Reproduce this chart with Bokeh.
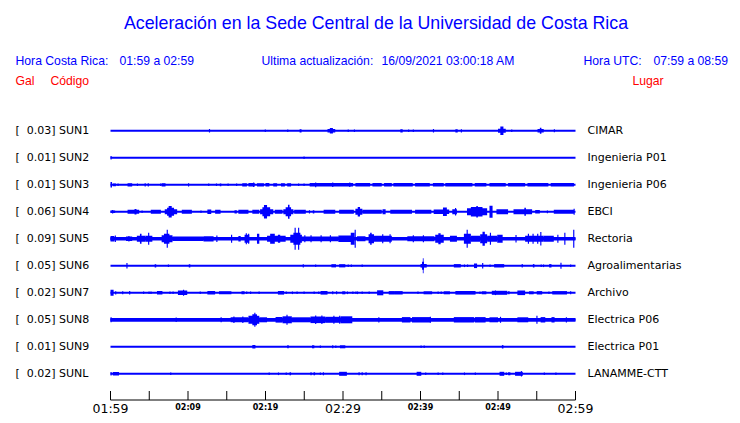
from bokeh.plotting import figure
from bokeh.models import Range1d
from bokeh.core.properties import value
from bokeh.embed import file_html
from bokeh.resources import INLINE

# ---------------- data ----------------
TITLE = "Aceleración en la Sede Central de la Universidad de Costa Rica"
HORA_CR = "01:59 a 02:59"
UPDATE = "16/09/2021 03:00:18 AM"
HORA_UTC = "07:59 a 08:59"

CODES = ["SUN1", "SUN2", "SUN3", "SUN4", "SUN5", "SUN6", "SUN7", "SUN8", "SUN9", "SUNL"]
PEAK_GAL = [0.03, 0.01, 0.01, 0.06, 0.09, 0.05, 0.02, 0.05, 0.01, 0.02]
PLACES = ["CIMAR", "Ingenieria P01", "Ingenieria P06", "EBCI", "Rectoria",
          "Agroalimentarias", "Archivo", "Electrica P06", "Electrica P01", "LANAMME-CTT"]

DURATION_MIN = 60
TICK_MINUTES = [0, 5, 10, 15, 20, 25, 30, 35, 40, 45, 50, 55, 60]
MINOR_LABEL_MIN = [10, 20, 40, 50]
MINOR_LABELS = ["02:09", "02:19", "02:39", "02:49"]
MAJOR_LABEL_MIN = [0, 30, 60]
MAJOR_LABELS = ["01:59", "02:29", "02:59"]

# Envelope of each trace: (start minute, end minute, half-amplitude in counts)
BASE_AMP = 1.0

SUN1_EV = [
    (12.7, 12.85, 1.8), (19.9, 20.05, 1.3), (22.8, 22.95, 1.3), (24.4, 24.65, 1.6),
    (28.0, 29.0, 1.8), (28.3, 28.7, 2.7),
    (30.6, 30.75, 1.3), (31.4, 31.55, 1.3),
    (37.4, 37.7, 1.6), (38.4, 38.55, 1.2), (39.0, 39.15, 1.2),
    (41.6, 41.75, 1.8), (44.5, 44.8, 1.6), (45.2, 45.35, 1.6),
    (50.0, 51.0, 2.0), (50.3, 50.7, 4.3), (51.7, 51.85, 1.2),
    (55.1, 55.9, 1.8), (55.4, 55.6, 3.0), (57.2, 57.35, 1.5),
]
SUN2_EV = [(0.0, 0.15, 1.8), (24.9, 25.05, 1.3)]
SUN3_EV = [
    (0.0, 0.2, 2.7), (0.3, 0.7, 1.4), (0.9, 1.05, 1.3),
    (2.2, 2.8, 1.6), (3.4, 3.55, 1.2), (4.4, 4.55, 1.6), (4.8, 4.95, 1.6),
    (6.4, 6.55, 1.2), (6.6, 7.1, 1.6), (10.0, 10.15, 1.6), (12.6, 12.75, 1.2),
    (13.6, 13.75, 1.2), (14.1, 14.3, 1.4), (15.1, 15.25, 1.3), (16.2, 16.35, 1.3),
    (17.0, 17.6, 1.6), (17.8, 18.6, 1.7), (18.4, 18.55, 2.3), (18.9, 19.8, 1.6),
    (20.0, 20.5, 1.7), (21.0, 21.5, 1.6), (22.0, 22.5, 1.6), (22.8, 23.3, 1.6),
    (24.2, 24.35, 1.2), (24.9, 25.05, 1.2),
    (25.7, 30.0, 1.8), (26.4, 26.55, 2.4), (28.6, 28.75, 2.2),
    (30.0, 31.3, 1.8), (30.8, 30.95, 2.3), (31.6, 33.5, 1.8), (33.8, 35.0, 1.8),
    (35.3, 36.3, 1.8), (36.5, 39.0, 1.8), (39.3, 41.2, 1.8), (41.6, 43.0, 1.8),
    (43.2, 46.7, 1.8), (47.0, 48.5, 1.8), (48.9, 51.0, 1.8), (51.3, 53.5, 1.8),
    (53.8, 56.5, 1.8), (56.8, 59.8, 1.8),
]
SUN4_EV = [
    (0.0, 0.6, 1.3), (0.2, 0.35, 1.8), (2.2, 3.7, 2.0), (3.1, 3.35, 2.7), (4.0, 4.15, 1.3),
    (5.2, 6.5, 2.0), (7.0, 8.6, 2.5), (7.3, 8.2, 4.0), (7.5, 7.9, 5.7),
    (9.2, 10.5, 2.0), (11.6, 11.75, 1.3), (12.5, 13.0, 2.3), (13.5, 14.2, 2.0),
    (16.0, 16.3, 1.6), (16.5, 17.8, 2.0), (18.3, 19.2, 2.0),
    (19.3, 21.0, 2.5), (19.6, 20.6, 4.5), (19.8, 20.2, 6.7), (21.2, 22.2, 2.0),
    (22.3, 23.6, 2.5), (22.6, 23.3, 4.5), (22.9, 23.1, 7.0),
    (23.7, 25.2, 2.0), (25.6, 25.75, 1.6), (26.1, 26.3, 1.6),
    (27.5, 29.0, 2.0), (29.5, 31.4, 2.0), (31.6, 32.5, 3.0), (31.9, 32.2, 4.7),
    (32.5, 35.0, 2.0), (35.1, 35.5, 2.5), (36.1, 38.9, 2.0), (39.3, 41.4, 2.0),
    (41.7, 43.7, 2.3), (42.9, 43.4, 4.3), (44.1, 44.7, 2.5), (44.45, 44.6, 3.7),
    (46.0, 48.6, 3.5), (46.5, 48.0, 4.7), (47.2, 47.4, 5.8), (48.9, 49.3, 6.0),
    (49.8, 51.3, 2.5), (52.0, 54.4, 2.5), (53.4, 53.6, 4.0),
    (54.8, 55.4, 1.8), (56.3, 56.45, 1.4), (57.2, 59.8, 2.0), (59.75, 59.9, 3.0),
]
SUN5_EV = [
    (0.0, 60.0, 1.7), (0.0, 0.5, 2.8), (0.55, 0.7, 3.2),
    (2.0, 2.8, 2.3), (2.3, 2.45, 2.8), (3.4, 4.5, 3.0), (3.8, 4.0, 5.0),
    (4.5, 5.4, 3.0), (4.85, 5.0, 6.0), (6.6, 8.0, 3.5), (6.9, 7.6, 5.0), (7.25, 7.4, 9.0),
    (8.0, 12.0, 2.2), (12.0, 13.3, 2.6), (13.65, 13.8, 3.3),
    (15.55, 15.7, 4.0), (16.5, 16.8, 2.8), (17.3, 17.9, 4.0), (17.45, 17.6, 5.5),
    (17.75, 17.9, 5.0), (18.9, 19.2, 5.0),
    (20.2, 22.6, 3.0), (20.6, 21.2, 5.0), (21.6, 21.9, 4.0),
    (23.2, 24.7, 4.0), (23.6, 24.5, 6.0), (23.75, 23.9, 11.0), (24.2, 24.35, 11.0),
    (24.7, 29.4, 2.4), (25.0, 25.15, 3.5), (25.8, 25.95, 3.5), (27.1, 27.25, 3.5),
    (28.3, 28.45, 3.5), (29.4, 31.4, 3.3), (31.0, 31.5, 6.0), (31.5, 31.65, 9.0),
    (31.8, 32.9, 2.5), (33.3, 34.0, 4.5), (33.5, 33.7, 6.0),
    (34.0, 36.3, 3.0), (35.05, 35.2, 4.5), (36.0, 36.15, 4.5),
    (38.3, 41.8, 2.5), (39.0, 39.15, 3.5), (40.3, 40.45, 3.5),
    (41.9, 43.0, 4.0), (42.3, 42.6, 5.5), (43.8, 44.7, 3.0),
    (45.6, 46.5, 5.0), (45.95, 46.1, 9.0), (46.5, 47.7, 3.0),
    (47.7, 48.6, 4.5), (48.0, 48.3, 7.0), (48.6, 49.9, 3.0), (48.95, 49.1, 6.0),
    (49.9, 50.6, 4.0), (52.25, 52.4, 3.7),
    (53.5, 55.9, 3.0), (53.85, 54.0, 5.0), (54.45, 54.6, 5.0), (55.05, 55.2, 5.0),
    (55.45, 55.6, 6.7), (55.9, 57.2, 3.0),
    (57.65, 57.8, 4.0), (58.55, 58.7, 6.0), (59.7, 59.85, 9.0),
]
SUN6_EV = [
    (2.05, 2.2, 2.7), (5.7, 5.9, 1.6), (7.4, 7.55, 1.3), (10.1, 10.3, 1.6),
    (24.8, 24.95, 1.6), (26.4, 26.55, 1.3), (28.5, 29.1, 1.6), (29.5, 30.3, 1.6),
    (30.6, 30.75, 1.3), (31.0, 31.15, 1.3), (32.4, 32.55, 1.3),
    (40.0, 40.8, 1.8), (40.2, 40.45, 4.0), (40.3, 40.4, 7.5),
    (44.3, 45.2, 1.7), (45.6, 45.75, 1.3), (46.0, 46.15, 1.3),
    (46.9, 47.3, 2.3), (47.95, 48.1, 2.7), (48.9, 49.05, 1.3),
    (49.5, 50.8, 1.7), (53.05, 53.2, 1.7), (54.5, 54.7, 1.7), (55.5, 55.65, 1.3),
    (55.8, 55.95, 1.3), (56.6, 56.9, 1.7), (58.05, 58.2, 3.0), (59.3, 59.45, 1.3),
]
SUN7_EV = [
    (0.0, 0.4, 3.0), (0.6, 0.75, 1.6), (1.5, 1.65, 1.5), (2.4, 2.55, 1.7),
    (4.2, 4.35, 1.3), (4.9, 5.05, 1.3), (5.15, 5.3, 1.3), (6.0, 6.7, 1.7),
    (7.6, 7.75, 1.3), (8.0, 8.15, 1.3), (8.7, 9.9, 2.3), (9.35, 9.5, 3.0),
    (11.5, 11.65, 1.3), (12.5, 13.5, 1.7), (14.0, 15.6, 1.5),
    (16.9, 17.3, 1.5), (17.5, 17.65, 1.3), (18.0, 18.15, 1.3), (19.1, 19.25, 1.3),
    (21.6, 22.4, 1.8), (22.6, 22.75, 1.3), (23.4, 23.55, 1.3), (24.0, 24.15, 1.3),
    (24.9, 25.05, 1.3), (26.2, 26.35, 1.3), (26.8, 26.95, 1.3),
    (27.1, 28.0, 1.8), (28.6, 28.75, 1.5), (29.1, 29.25, 1.5), (29.9, 30.3, 1.5),
    (30.5, 30.65, 1.3), (31.2, 31.35, 1.3), (31.6, 31.75, 1.3), (31.8, 31.95, 1.3),
    (32.4, 32.55, 1.3), (33.3, 33.45, 1.3),
    (34.4, 35.2, 2.5), (35.9, 36.7, 1.7), (36.7, 37.7, 1.7),
    (39.6, 39.75, 1.3), (40.4, 41.5, 1.5), (42.2, 42.35, 1.3), (42.6, 42.75, 1.3),
    (43.0, 43.8, 1.5), (44.5, 47.1, 1.8), (47.6, 47.75, 1.3), (47.9, 48.5, 1.5),
    (49.2, 51.2, 2.0), (49.6, 49.75, 2.3), (51.3, 51.5, 1.5),
    (52.5, 53.5, 2.3), (54.0, 54.6, 1.5), (55.0, 55.7, 1.7), (56.5, 56.65, 1.3),
    (57.0, 58.9, 1.7), (59.3, 59.45, 1.5),
]
SUN8_EV = [
    (0.0, 60.0, 1.9), (0.0, 0.15, 2.5), (8.4, 8.55, 2.3), (14.2, 14.35, 2.5),
    (15.5, 17.8, 2.5), (15.85, 16.0, 3.3), (17.0, 17.15, 3.3),
    (17.8, 19.2, 4.0), (18.3, 18.9, 5.5), (18.55, 18.7, 7.0),
    (19.2, 20.2, 2.5), (21.3, 22.2, 2.8), (22.2, 23.4, 3.5), (22.7, 22.85, 5.0),
    (23.4, 25.8, 2.5), (25.8, 27.7, 3.3), (26.4, 26.55, 4.3), (27.2, 27.35, 4.3),
    (27.7, 29.7, 3.0), (28.75, 28.9, 4.0), (29.5, 29.65, 4.0), (29.7, 31.2, 3.5),
    (34.55, 34.7, 2.6), (37.6, 38.7, 2.7), (38.9, 41.3, 2.7), (41.2, 41.35, 3.0),
    (44.3, 46.9, 2.7), (47.0, 48.4, 2.7), (48.9, 50.0, 2.5), (50.25, 50.4, 3.0),
    (52.5, 53.9, 2.5), (54.95, 55.1, 4.0), (55.5, 56.1, 2.7), (56.9, 57.3, 2.7),
    (58.75, 58.9, 2.6),
]
SUN9_EV = [
    (18.3, 18.7, 1.7), (22.8, 23.0, 1.5), (26.0, 26.3, 1.5), (27.0, 27.15, 1.3),
    (28.6, 28.75, 1.5), (29.0, 29.15, 1.3), (29.6, 30.3, 1.5),
    (40.0, 40.15, 1.3), (40.4, 40.55, 1.3), (50.5, 50.7, 1.7),
]
SUNL_EV = [
    (0.0, 0.15, 1.8), (0.3, 1.1, 1.7), (7.7, 7.85, 1.3), (20.4, 20.55, 1.3),
    (21.6, 21.75, 1.3), (22.6, 22.75, 1.3), (23.1, 23.3, 1.5), (25.8, 25.95, 1.5),
    (26.2, 26.4, 1.5), (27.0, 27.15, 1.3), (27.4, 27.55, 1.5), (29.5, 30.5, 2.0),
    (32.0, 32.15, 1.5), (32.4, 32.55, 1.5), (32.9, 33.05, 1.5),
    (39.5, 40.1, 2.0), (40.6, 40.75, 1.3), (42.2, 42.35, 1.3), (42.8, 42.95, 1.3),
    (45.6, 45.75, 1.3), (47.0, 47.15, 1.3), (50.2, 50.8, 2.0), (51.0, 51.15, 1.3),
    (51.3, 51.6, 1.5), (52.2, 53.2, 2.0), (52.95, 53.1, 2.7),
    (55.9, 56.05, 1.3), (57.4, 57.55, 1.3),
]
EVENTS = [SUN1_EV, SUN2_EV, SUN3_EV, SUN4_EV, SUN5_EV,
          SUN6_EV, SUN7_EV, SUN8_EV, SUN9_EV, SUNL_EV]

# ---------------- layout ----------------
W, H = 732, 415
X0_PX, PX_PER_MIN = 110.0, 7.75      # picture px of minute 0, px per minute
Y0_PX, TRACE_PX = 130.3, 27.0        # picture px of trace 0, spacing between traces
COUNT_PX = 1.0                       # one count = one pixel


def X(px):
    return (px - X0_PX) / PX_PER_MIN


def Y(py):
    return (py - Y0_PX) / TRACE_PX


BLUE = "#0000ff"
RED = "#ff0000"

p = figure(width=W, height=H, output_backend="svg", toolbar_location=None,
           x_axis_type=None, y_axis_type=None, min_border=0,
           x_range=Range1d(X(0), X(W)), y_range=Range1d(Y(H), Y(0)))
p.outline_line_color = None
p.background_fill_color = "white"
p.border_fill_color = "white"

# traces
L, R, T, B = [], [], [], []
for i, ev in enumerate(EVENTS):
    segs = [(0.0, float(DURATION_MIN), BASE_AMP)] + list(ev)
    for t0, t1, a in segs:
        h = a * COUNT_PX / TRACE_PX
        L.append(t0)
        R.append(t1)
        T.append(i - h)
        B.append(i + h)
p.quad(left=L, right=R, top=T, bottom=B, fill_color=BLUE, line_color=None)

# station labels
left_txt = ["[\u00a0\u00a0%.2f] %s" % (g, c) for g, c in zip(PEAK_GAL, CODES)]
idx = list(range(len(CODES)))
p.text(x=[X(15)] * len(idx), y=idx, text=left_txt, text_font=value("DejaVu Sans"),
       text_font_size="11px", text_color="black", text_baseline="middle", text_align="left")
p.text(x=[X(587)] * len(idx), y=idx, text=PLACES, text_font=value("DejaVu Sans"),
       text_font_size="11px", text_color="black", text_baseline="middle", text_align="left")

# header
p.text(x=[X(375.5)], y=[Y(22.5)], text=[TITLE], text_font=value("Liberation Sans"),
       text_font_size="17.8px", text_color=BLUE, text_baseline="middle", text_align="center")
hdr_x = [X(15), X(119), X(261), X(381), X(583), X(653)]
hdr_t = ["Hora Costa Rica:", HORA_CR, "Ultima actualización:", UPDATE, "Hora UTC:", HORA_UTC]
p.text(x=hdr_x, y=[Y(60.5)] * 6, text=hdr_t, text_font=value("Liberation Sans"),
       text_font_size="12.2px", text_color=BLUE, text_baseline="middle", text_align="left")
p.text(x=[X(15), X(50), X(632)], y=[Y(80.5)] * 3, text=["Gal", "Código", "Lugar"],
       text_font=value("Liberation Sans"), text_font_size="12.2px", text_color=RED,
       text_baseline="middle", text_align="left")

# time axis (kept inside the visible window)
AX_Y = Y(399.5)
p.segment(x0=[TICK_MINUTES[0]], y0=[AX_Y], x1=[TICK_MINUTES[-1]], y1=[AX_Y],
          line_color="black", line_width=1)
p.segment(x0=TICK_MINUTES, y0=[Y(390.5)] * len(TICK_MINUTES), x1=TICK_MINUTES,
          y1=[AX_Y] * len(TICK_MINUTES), line_color="black", line_width=1)
p.text(x=MAJOR_LABEL_MIN, y=[Y(408)] * 3, text=MAJOR_LABELS, text_font=value("DejaVu Sans"),
       text_font_size="12.5px", text_color="black", text_baseline="middle", text_align="center")
p.text(x=MINOR_LABEL_MIN, y=[Y(406.5)] * 4, text=MINOR_LABELS, text_font=value("DejaVu Sans"),
       text_font_size="8px", text_font_style="bold", text_color="black",
       text_baseline="middle", text_align="center")

open("out.html", "w").write(file_html(p, INLINE))
